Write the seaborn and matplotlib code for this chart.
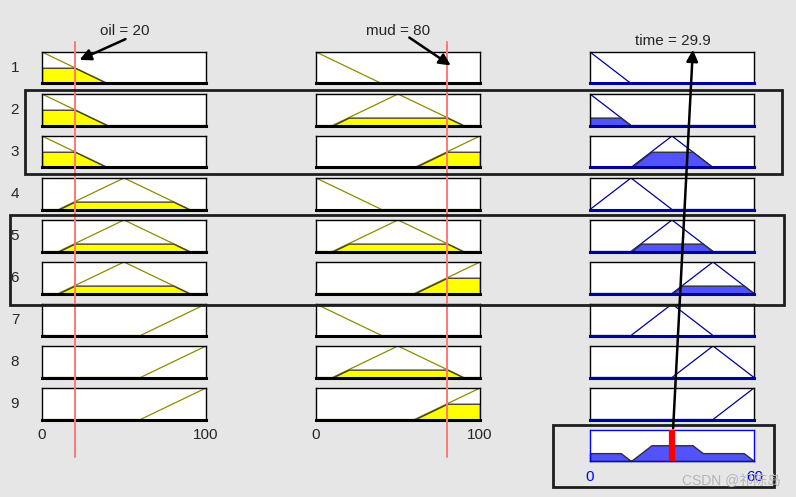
import numpy as np
import pandas as pd
import matplotlib
matplotlib.use("Agg")
import matplotlib.pyplot as plt
import seaborn as sns
from matplotlib.patches import Rectangle, FancyArrowPatch
from matplotlib.lines import Line2D

# --- Fuzzy rule viewer: oil / mud -> washing time ---

W, H = 796, 497

oil_value = 20
mud_value = 80
time_value = 29.9

# triangular membership functions [a, b, c]
in_mf_params = [[-40, 0, 40], [10, 50, 90], [60, 100, 140]]      # low, medium, high
out_mf_params = [[-15, 0, 15], [0, 15, 30], [15, 30, 45], [30, 45, 60], [45, 60, 75]]  # VS, S, M, L, VL

# rule base (indices into the mf lists)
rule_oil = [0, 0, 0, 1, 1, 1, 2, 2, 2]
rule_mud = [0, 1, 2, 0, 1, 2, 0, 1, 2]
rule_time = [0, 0, 2, 1, 2, 3, 2, 3, 4]

in_range = [0, 100]
out_range = [0, 60]

YELLOW = "#ffff00"
OLIVE = "#8c8c00"
BLUE_FILL = "#5252ff"
NAVY = "#00009a"
BG = "#e6e6e6"
FS = 11


def trimf(x, p):
    a, b, c = p
    return np.clip(np.minimum((x - a) / (b - a), (c - x) / (c - b)), 0, 1)


def px(x, y):
    # pixel position (top-left origin) -> figure fraction
    return x / W, 1 - y / H


def add_ax(x0, y0, x1, y1):
    l, b = px(x0, y1)
    return fig.add_axes([l, b, (x1 - x0) / W, (y1 - y0) / H])


sns.set_style("white")
plt.rcParams["font.family"] = ["Liberation Sans", "Noto Sans CJK SC", "DejaVu Sans"]

fig = plt.figure(figsize=(W / 100, H / 100), dpi=100, facecolor=BG)

mu_oil = [float(trimf(np.array(oil_value), p)) for p in in_mf_params]
mu_mud = [float(trimf(np.array(mud_value), p)) for p in in_mf_params]
strength = [min(mu_oil[o], mu_mud[m]) for o, m in zip(rule_oil, rule_mud)]

x_in = np.linspace(in_range[0], in_range[1], 401)
x_out = np.linspace(out_range[0], out_range[1], 601)

col_x = [(42, 206), (316, 480), (590, 754)]
row_top, row_h, row_gap = 52, 31.5, 42


def style_ax(ax, xr, bottom_color="black"):
    ax.set_xlim(*xr)
    ax.set_ylim(0, 1.0)
    ax.set_xticks([])
    ax.set_yticks([])
    ax.set_xlabel("")
    ax.set_ylabel("")
    ax.set_facecolor("white")
    for s in ax.spines.values():
        s.set_color("black")
        s.set_linewidth(1.0)
    ax.spines["bottom"].set_linewidth(2.2)
    ax.spines["bottom"].set_color(bottom_color)
    if ax.get_legend():
        ax.get_legend().remove()


for r in range(9):
    y0 = row_top + r * row_gap
    y1 = y0 + row_h

    # inputs
    for c, (mfi, mu) in enumerate([(rule_oil[r], mu_oil), (rule_mud[r], mu_mud)]):
        ax = add_ax(col_x[c][0], y0, col_x[c][1], y1)
        curve = trimf(x_in, in_mf_params[mfi])
        level = mu[mfi]
        if level > 0:
            ax.fill_between(x_in, 0, np.minimum(curve, level), color=YELLOW,
                            edgecolor="#404040", linewidth=1.0, zorder=2)
        df = pd.DataFrame({"x": x_in, "mu": curve})
        sns.lineplot(data=df, x="x", y="mu", ax=ax, color=OLIVE, linewidth=0.9, zorder=1)
        style_ax(ax, in_range)

    # output
    ax = add_ax(col_x[2][0], y0, col_x[2][1], y1)
    curve = trimf(x_out, out_mf_params[rule_time[r]])
    if strength[r] > 0:
        ax.fill_between(x_out, 0, np.minimum(curve, strength[r]), color=BLUE_FILL,
                        edgecolor="#303030", linewidth=1.0, zorder=2)
    df = pd.DataFrame({"x": x_out, "mu": curve})
    sns.lineplot(data=df, x="x", y="mu", ax=ax, color=NAVY, linewidth=0.9, zorder=1)
    style_ax(ax, out_range, bottom_color=NAVY)

    fig.text(*px(15, (y0 + y1) / 2), str(r + 1), ha="center", va="center", fontsize=FS)

# aggregated output
agg = np.zeros_like(x_out)
for r in range(9):
    agg = np.maximum(agg, np.minimum(trimf(x_out, out_mf_params[rule_time[r]]), strength[r]))

ax = add_ax(590, 429.5, 754, 461)
ax.fill_between(x_out, 0, agg, color=BLUE_FILL, edgecolor="#303030", linewidth=1.0, clip_on=False)
ax.axvline(time_value, ymin=0.02, ymax=0.97, color="red", linewidth=4.5, zorder=3)
ax.set_xlim(*out_range)
ax.set_ylim(0, 1)
ax.set_xticks([])
ax.set_yticks([])
ax.set_facecolor("white")
for s in ax.spines.values():
    s.set_color("#0000ff")
    s.set_linewidth(1.0)

# tick labels
fig.text(*px(42, 435), "0", ha="center", va="center", fontsize=FS)
fig.text(*px(206, 435), "100", ha="center", va="center", fontsize=FS)
fig.text(*px(316, 435), "0", ha="center", va="center", fontsize=FS)
fig.text(*px(480, 435), "100", ha="center", va="center", fontsize=FS)
fig.text(*px(590, 477), "0", ha="center", va="center", fontsize=FS, color="#0000ff")
fig.text(*px(755, 477), "60", ha="center", va="center", fontsize=FS, color="#0000ff")

# input value lines
for xv, c in [(oil_value, 0), (mud_value, 1)]:
    xp = col_x[c][0] + (col_x[c][1] - col_x[c][0]) * xv / 100
    fig.add_artist(Line2D([px(xp, 0)[0]] * 2, [px(0, 42)[1], px(0, 457)[1]],
                          color="#ff7878", linewidth=1.4, zorder=4))

# titles and arrows
fig.text(*px(125, 31), f"oil = {oil_value}", ha="center", va="center", fontsize=FS)
fig.text(*px(398, 31), f"mud = {mud_value}", ha="center", va="center", fontsize=FS)
fig.text(*px(673, 41), f"time = {time_value}", ha="center", va="center", fontsize=FS)

for a, b in [((128, 38), (77, 61)), ((407, 36), (453, 67)), ((673, 431), (693, 47))]:
    fig.add_artist(FancyArrowPatch(px(*a), px(*b), transform=fig.transFigure,
                                   arrowstyle="-|>", mutation_scale=17, linewidth=1.8,
                                   color="black", zorder=6))

# rule highlight boxes
for (x0, y0, x1, y1) in [(25, 89.5, 782, 174), (10, 215, 784, 305), (553, 424.5, 774, 487)]:
    l, b = px(x0, y1)
    fig.add_artist(Rectangle((l, b), (x1 - x0) / W, (y1 - y0) / H, transform=fig.transFigure,
                             fill=False, edgecolor="#1e1e1e", linewidth=2.0, zorder=5))

fig.text(*px(731, 481), "CSDN @祁陈岛", ha="center", va="center", fontsize=10,
         color="#b4b4b4", zorder=7)

fig.savefig("out.png", dpi=100, facecolor=BG)
